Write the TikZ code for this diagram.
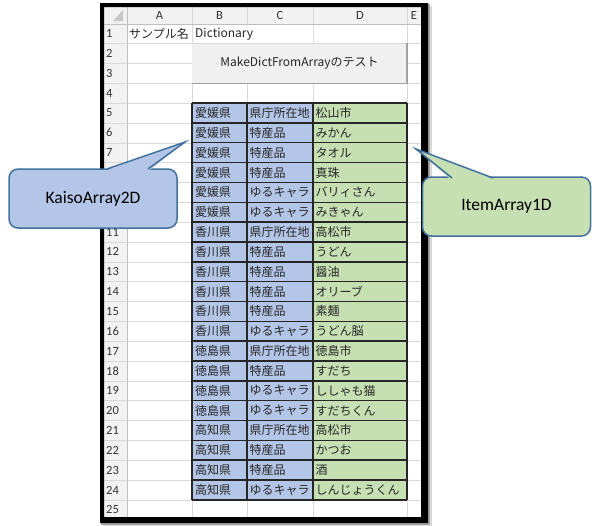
\documentclass[tikz,border=0pt]{standalone}
\usepackage{fontspec}
\setmainfont{Carlito}
\newfontfamily\jpfont{Noto Sans CJK JP}
\definecolor{gridline}{HTML}{D9D9D9}
\definecolor{hdrfill}{HTML}{F2F2F2}
\definecolor{hdrline}{HTML}{BFBFBF}
\definecolor{keyfill}{HTML}{B4C6E7}
\definecolor{itemfill}{HTML}{C6E0B4}
\definecolor{calloutline}{HTML}{41719C}
\definecolor{btnfill}{HTML}{F0F0F0}
\definecolor{btnedge}{HTML}{A0A0A0}

\begin{document}
\begin{tikzpicture}[x=1pt, y=-1pt]
    \tikzset{
        hdrtext/.style={inner sep=0pt, text=black!80, font=\fontsize{12.5}{13}\selectfont},
        celltext/.style={anchor=west, inner sep=0pt, text=black!85, font=\jpfont\fontsize{12}{13}\selectfont},
        tableline/.style={black!85, line width=1.5pt},
        button/.style={fill=btnfill, inner sep=0pt, minimum width=215pt, minimum height=39.7pt,
            text=black!85, font=\jpfont\fontsize{12}{13}\selectfont},
        callout/.style={draw=calloutline, line width=1.5pt, rounded corners=9pt, inner sep=0pt,
            minimum width=168pt, minimum height=59pt, font=\fontsize{17.5}{18}\selectfont},
    }
    \useasboundingbox (0,0) rectangle (597,525);

    % Shadow and sheet
    \fill[black!15] (103,6) rectangle (432,526);
    \fill[black!35] (101,4) rectangle (430,524.5);
    \fill[white] (104,7) rectangle (421,517);

    % Headers
    \fill[hdrfill] (104,7) rectangle (421,23.7);
    \fill[hdrfill] (104,7) rectangle (127,517);
    \fill[black!22] (123,10) -- (123,21) -- (113,21) -- cycle;

    % Grid
    \foreach \r in {2,...,26} {
        \pgfmathsetmacro\yt{23.7+(\r-1)*19.84}
        \draw[gridline] (104,\yt) -- (421,\yt);
    }
    \foreach \x in {192,247,313,407}
        \draw[gridline] (\x,7) -- (\x,517);
    \fill[white] (246,24.5) rectangle (248.5,43);
    \draw[hdrline] (104,23.7) -- (421,23.7);
    \draw[hdrline] (127,7) -- (127,517);

    % Column and row labels (rows 8-10 sit under the callout)
    \foreach \c/\x in {A/159.5, B/219.5, C/280, D/360, E/414}
        \node[hdrtext] (col\c) at (\x,15.5) {\c};
    \foreach \r in {1,...,7,11,12,...,25} {
        \pgfmathsetmacro\yc{23.7+(\r-0.5)*19.84}
        \node[hdrtext, anchor=west] (row\r) at (106,\yc) {\r};
    }

    % Row 1 and button
    \node[celltext] (a1) at (129,34) {サンプル名};
    \node[celltext] (b1) at (195,34) {Dictionary};
    \node[button] (btn) at (299.5,63.4) {MakeDictFromArrayのテスト};
    \draw[btnedge, line width=1.5pt] (btn.north east) -- (btn.south east) -- (btn.south west);

    % Table
    \foreach \r/\pref/\kind/\val in {
        5/愛媛県/県庁所在地/松山市, 6/愛媛県/特産品/みかん, 7/愛媛県/特産品/タオル,
        8/愛媛県/特産品/真珠, 9/愛媛県/ゆるキャラ/バリィさん, 10/愛媛県/ゆるキャラ/みきゃん,
        11/香川県/県庁所在地/高松市, 12/香川県/特産品/うどん, 13/香川県/特産品/醤油,
        14/香川県/特産品/オリーブ, 15/香川県/特産品/素麺, 16/香川県/ゆるキャラ/うどん脳,
        17/徳島県/県庁所在地/徳島市, 18/徳島県/特産品/すだち, 19/徳島県/ゆるキャラ/ししゃも猫,
        20/徳島県/ゆるキャラ/すだちくん, 21/高知県/県庁所在地/高松市, 22/高知県/特産品/かつお,
        23/高知県/特産品/酒, 24/高知県/ゆるキャラ/しんじょうくん} {
        \pgfmathsetmacro\yt{23.7+(\r-1)*19.84}
        \pgfmathsetmacro\yb{23.7+\r*19.84}
        \pgfmathsetmacro\yc{23.7+(\r-0.5)*19.84}
        \fill[keyfill] (192,\yt) rectangle (313,\yb);
        \fill[itemfill] (313,\yt) rectangle (407,\yb);
        \node[celltext] (b\r) at (195,\yc) {\pref};
        \node[celltext] (c\r) at (249.5,\yc) {\kind};
        \node[celltext] (d\r) at (315.5,\yc) {\val};
    }
    \foreach \r in {5,...,25} {
        \pgfmathsetmacro\yt{23.7+(\r-1)*19.84}
        \draw[tableline] (192,\yt) -- (407,\yt);
    }
    \foreach \x in {192,247,313,407}
        \draw[tableline] (\x,103.06) -- (\x,499.86);

    % Frame
    \fill[black, even odd rule] (100,3) rectangle (428,523) (104,7) rectangle (421,517);

    % Callouts
    \node[callout, fill=keyfill] (kaiso) at (93,198.5) {KaisoArray2D};
    \coordinate (kaisotip) at (185,142);
    \fill[keyfill] (106,170.5) -- (kaisotip) -- (149,170.5) -- cycle;
    \draw[calloutline, line width=1.5pt] (107,169) -- (kaisotip) -- (148,169);

    \node[callout, fill=itemfill] (item) at (506.5,206.5) {ItemArray1D};
    \coordinate (itemtip) at (416,149);
    \fill[itemfill] (451,179.5) -- (itemtip) -- (494,179.5) -- cycle;
    \draw[calloutline, line width=1.5pt] (452,178) -- (itemtip) -- (493,178);
\end{tikzpicture}
\end{document}
